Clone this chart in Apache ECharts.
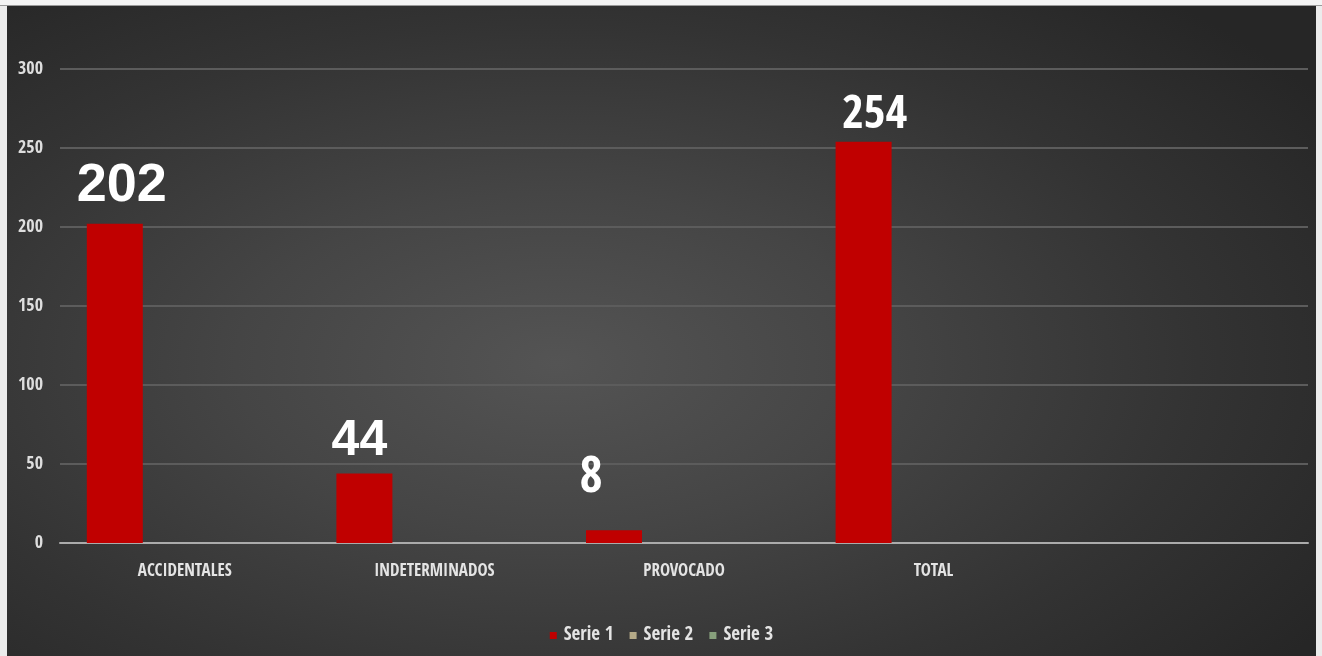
<!DOCTYPE html>
<html>
<head>
<meta charset="utf-8">
<script src="https://cdn.jsdelivr.net/npm/echarts@6/dist/echarts.min.js"></script>
<style>
  html, body { margin: 0; padding: 0; width: 1322px; height: 656px; background: #ececec; overflow: hidden; }
  #frame { position: absolute; left: 0; top: 0; width: 1322px; height: 5px; background: #f4f4f4; border-bottom: 1px solid #9a9a9a; }
  #chart { position: absolute; left: 7px; top: 6px; width: 1309px; height: 650px;
    background: radial-gradient(ellipse 70% 75% at 42% 55%, #545454 0%, #454545 35%, #333333 70%, #262626 100%); }
</style>
</head>
<body>
<div id="frame"></div>
<div id="chart"></div>
<script>
const categories = ['ACCIDENTALES', 'INDETERMINADOS', 'PROVOCADO', 'TOTAL', ''];
const serie1 = [202, 44, 8, 254, '-'];
const serie2 = ['-', '-', '-', '-', '-'];
const serie3 = ['-', '-', '-', '-', '-'];
const seriesNames = ['Serie 1', 'Serie 2', 'Serie 3'];
const yTicks = { min: 0, max: 300, interval: 50 };

const condensed = '"Open Sans Condensed", "Roboto Condensed", sans-serif';
const wide = '"Liberation Sans", Arial, sans-serif';

// per-label styling (the source chart has hand-positioned labels)
const labelStyles = [
  { fontFamily: wide, fontSize: 54, distance: 11, offset: [7, 0] },
  { fontFamily: wide, fontSize: 50, distance: 7, offset: [-5, 0] },
  { fontFamily: condensed, fontSize: 50, distance: 26, offset: [-23, 0] },
  { fontFamily: condensed, fontSize: 47, distance: 2, offset: [11, 0] },
  {}
];

const serie1Data = serie1.map((v, i) => ({ value: v, label: labelStyles[i] }));

const chart = echarts.init(document.getElementById('chart'), null, { renderer: 'canvas' });
chart.setOption({
  backgroundColor: 'transparent',
  animation: false,
  grid: { left: 53, right: 8, top: 63, bottom: 113, containLabel: false },
  legend: {
    data: seriesNames,
    left: 'center',
    top: 615,
    itemWidth: 7,
    itemHeight: 7,
    itemGap: 16,
    icon: 'rect',
    textStyle: { color: '#e4e4e4', fontFamily: condensed, fontWeight: 'bold', fontSize: 19, padding: [0, 0, 0, 2] }
  },
  xAxis: {
    type: 'category',
    data: categories,
    axisLine: { show: true, lineStyle: { color: '#ababab', width: 2 } },
    axisTick: { show: false },
    axisLabel: { color: '#e4e4e4', fontFamily: condensed, fontWeight: 'bold', fontSize: 17, margin: 20, interval: 0 },
    splitLine: { show: false }
  },
  yAxis: {
    type: 'value',
    min: yTicks.min,
    max: yTicks.max,
    interval: yTicks.interval,
    axisLine: { show: false },
    axisTick: { show: false },
    axisLabel: { color: '#dedede', fontFamily: condensed, fontWeight: 'bold', fontSize: 18, margin: 17 },
    splitLine: { lineStyle: { color: '#5c5c5c', width: 2 } }
  },
  series: [
    {
      name: seriesNames[0], type: 'bar', data: serie1Data, barWidth: 56, barGap: '25%',
      itemStyle: { color: '#c00000' },
      label: { show: true, position: 'top', color: '#ffffff', fontWeight: 'bold' }
    },
    { name: seriesNames[1], type: 'bar', data: serie2, barWidth: 56, itemStyle: { color: '#b5aa88' } },
    { name: seriesNames[2], type: 'bar', data: serie3, barWidth: 56, itemStyle: { color: '#87a07c' } }
  ]
});
</script>
</body>
</html>
